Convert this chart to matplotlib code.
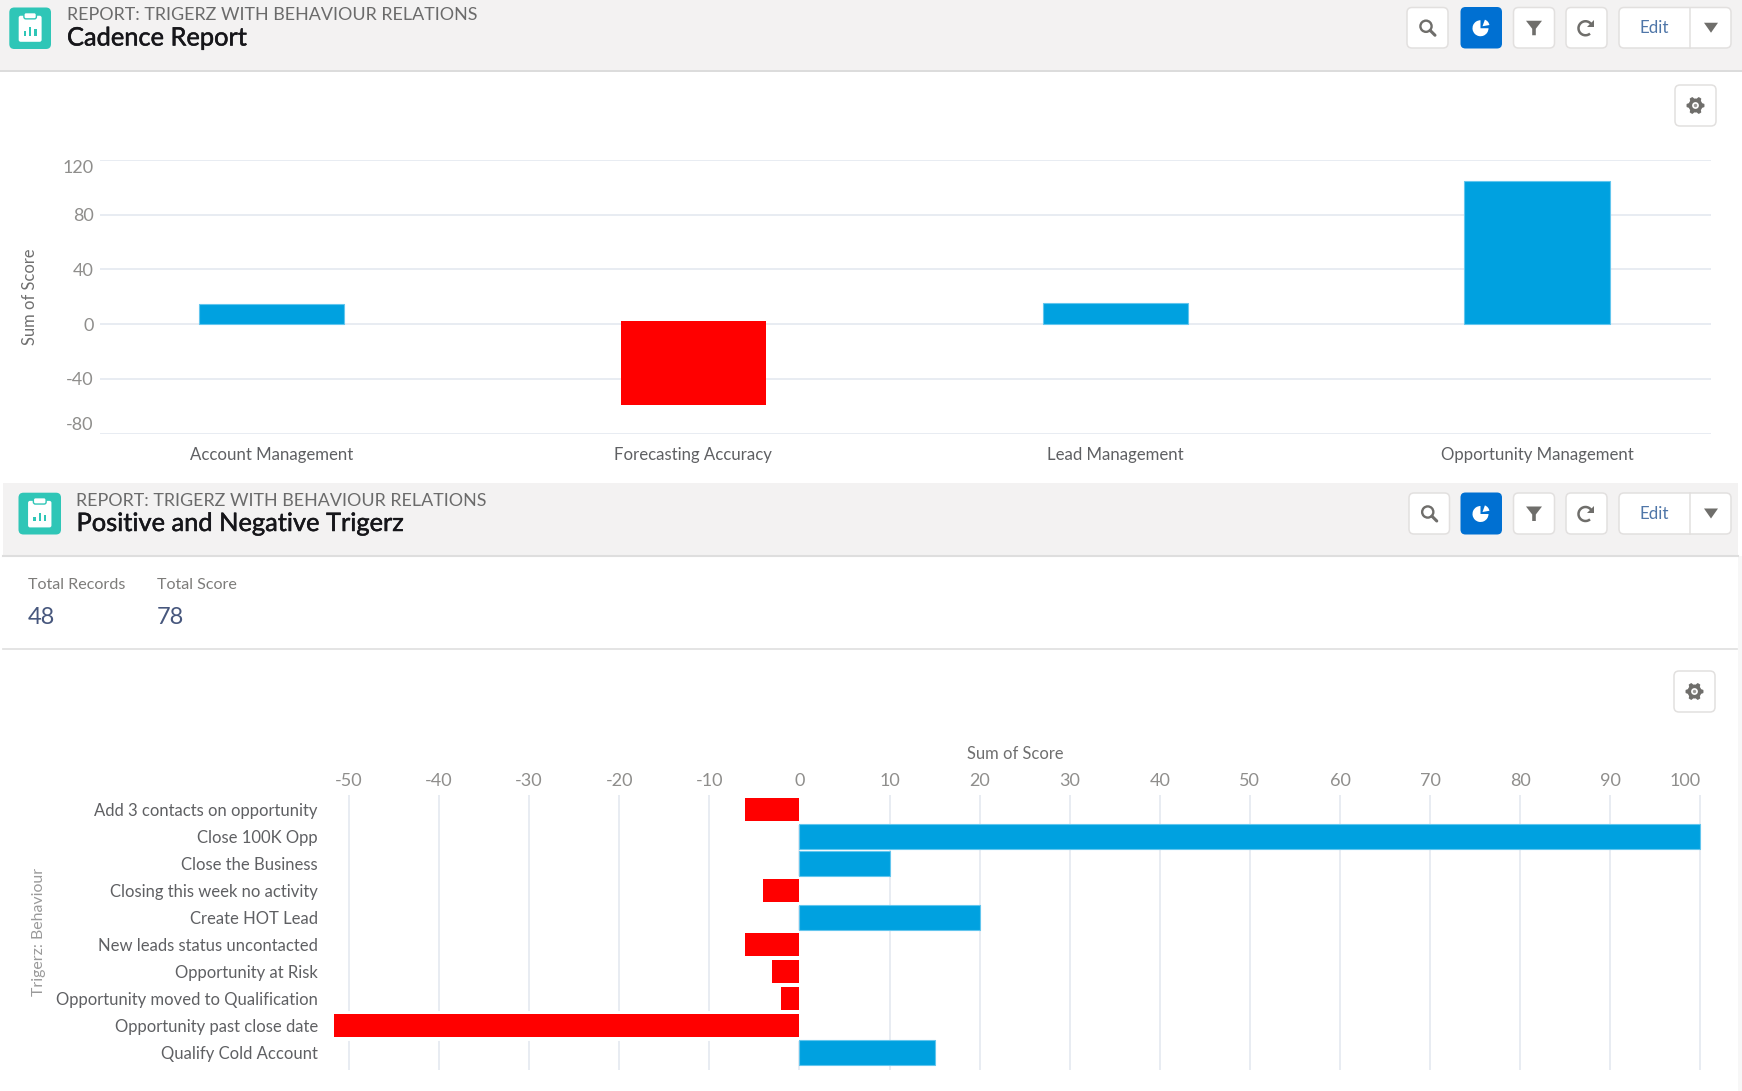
import numpy as np
import matplotlib
matplotlib.use("Agg")
import matplotlib.pyplot as plt
import matplotlib.patheffects as pe
from matplotlib.patches import FancyBboxPatch, Rectangle, Polygon, Wedge, Circle, Arc

plt.rcParams["font.family"] = ["Lato", "DejaVu Sans"]
plt.rcParams["axes.unicode_minus"] = False

# Cadence report values
cadence_categories = ["Account Management", "Forecasting Accuracy", "Lead Management", "Opportunity Management"]
cadence_scores = [14.5, -59, 15.5, 105]
cadence_ticks = [-80, -40, 0, 40, 80, 120]

# Positive and negative trigger values
trigger_categories = [
    "Add 3 contacts on opportunity", "Close 100K Opp", "Close the Business",
    "Closing this week no activity", "Create HOT Lead", "New leads status uncontacted",
    "Opportunity at Risk", "Opportunity moved to Qualification",
    "Opportunity past close date", "Qualify Cold Account",
]
trigger_scores = [-6, 100, 10, -4, 20, -6, -3, -2, -51.7, 15]
trigger_ticks = list(range(-50, 101, 10))

report_subtitle = "REPORT: TRIGERZ WITH BEHAVIOUR RELATIONS"
top_title = "Cadence Report"
bottom_title = "Positive and Negative Trigerz"
summary_names = ["Total Records", "Total Score"]
summary_values = ["48", "78"]

W, H = 1742, 1091
BLUE, BLUE_EDGE, RED = "#00a1e0", "#63c6ee", "#ff0000"
GRID = "#e6eaf1"
TICK_GREY = "#8f8e8c"
LABEL_GREY = "#5f6063"
ICON_GREY = "#6f6e6b"
BORDER = "#e2e0df"

fig = plt.figure(figsize=(W / 100, H / 100), dpi=100, facecolor="white")


def axes_from_px(x0, y0, x1, y1, **kw):
    return fig.add_axes([x0 / W, 1 - y1 / H, (x1 - x0) / W, (y1 - y0) / H], **kw)


# Page furniture is drawn on a full-size layer in pixel units
ui = axes_from_px(0, 0, W, H)
ui.set_xlim(0, W)
ui.set_ylim(H, 0)
ui.axis("off")


def rounded(x0, y0, x1, y1, face, edge="none", r=5, lw=1.1):
    ui.add_patch(FancyBboxPatch((x0 + r, y0 + r), x1 - x0 - 2 * r, y1 - y0 - 2 * r,
                                boxstyle=f"round,pad={r},rounding_size={r}",
                                fc=face, ec=edge, lw=lw))


def report_icon(x0, y0, x1, y1):
    rounded(x0, y0, x1, y1, "#2fc6b7", r=5)
    cx, s = (x0 + x1) / 2, (x1 - x0) / 40
    cy = (y0 + y1) / 2
    rounded(cx - 11 * s, cy - 12 * s, cx + 11 * s, cy + 13 * s, "white", r=2)
    rounded(cx - 6 * s, cy - 15 * s, cx + 6 * s, cy - 9 * s, "white", edge="#2fc6b7", r=2, lw=1)
    for dx, h in ((-5, 4), (0, 8), (5, 6)):
        ui.add_patch(Rectangle((cx + (dx - 1.1) * s, cy + 7 * s - h * s), 2.2 * s, h * s,
                               fc="#2fc6b7", ec="none"))


def search_icon(cx, cy):
    ui.add_patch(Circle((cx - 1.5, cy - 1.5), 5.6, fc="none", ec=ICON_GREY, lw=1.7))
    ui.plot([cx + 2.6, cx + 7.5], [cy + 2.6, cy + 7.5], color=ICON_GREY, lw=2.2,
            solid_capstyle="round")


def pie_icon(cx, cy):
    ui.add_patch(Wedge((cx - 0.5, cy + 0.5), 8, 0, 270, fc="white", ec="none"))
    ui.add_patch(Wedge((cx + 1.5, cy - 1.5), 7, 290, 350, fc="white", ec="none"))


def funnel_icon(cx, cy):
    ui.add_patch(Polygon([(cx - 8, cy - 7), (cx + 8, cy - 7), (cx + 1.8, cy + 1),
                          (cx + 1.8, cy + 7.5), (cx - 1.8, cy + 7.5), (cx - 1.8, cy + 1)],
                         closed=True, fc=ICON_GREY, ec="none"))


def refresh_icon(cx, cy):
    ui.add_patch(Arc((cx - 1, cy + 0.5), 14, 14, theta1=50, theta2=340, ec=ICON_GREY, lw=1.8))
    ui.add_patch(Polygon([(cx + 7.5, cy - 8), (cx + 7.5, cy - 0.5), (cx, cy - 0.5)],
                         closed=True, fc=ICON_GREY, ec="none"))


def gear_icon(cx, cy):
    angles = np.deg2rad(np.arange(0, 360, 10) + 30)
    radii = np.where((np.arange(36) % 6 == 0) | (np.arange(36) % 6 == 1) | (np.arange(36) % 6 == 5), 9.0, 7.0)
    pts = np.c_[cx + radii * np.sin(angles), cy + radii * np.cos(angles)]
    ui.add_patch(Polygon(pts, closed=True, fc=ICON_GREY, ec="none"))
    ui.add_patch(Circle((cx, cy), 3.4, fc="white", ec="none"))
    ui.add_patch(Circle((cx, cy), 1.7, fc="#9b9a98", ec="none"))


def toolbar(search_x, y0, y1):
    cy = (y0 + y1) / 2
    rounded(search_x[0], y0, search_x[1], y1, "white", BORDER)
    search_icon(sum(search_x) / 2, cy)
    rounded(1460.5, y0 - 0.5, 1502, y1 + 0.5, "#0070d2")
    pie_icon(1481, cy)
    rounded(1513.5, y0, 1554.5, y1, "white", BORDER)
    funnel_icon(1534, cy)
    rounded(1566, y0, 1607, y1, "white", BORDER)
    refresh_icon(1586.5, cy)
    rounded(1619, y0, 1731, y1, "white", BORDER)
    ui.plot([1690, 1690], [y0, y1], color=BORDER, lw=1.1)
    ui.text(1654.5, cy + 0.7, "Edit", ha="center", va="center", fontsize=12.2, color="#4f76a8")
    ui.add_patch(Polygon([(1704, cy - 5), (1718, cy - 5), (1711, cy + 5)], closed=True,
                         fc=ICON_GREY, ec="none"))


def settings_button(x0, y0):
    rounded(x0, y0, x0 + 41, y0 + 41, "white", BORDER)
    gear_icon(x0 + 20.5, y0 + 20.5)


# Header bands and separators
ui.add_patch(Rectangle((0, 0), W, 70, fc="#f3f2f2", ec="none"))
ui.plot([0, W], [70.5, 70.5], color="#d9d9d9", lw=1.3)
ui.add_patch(Rectangle((1738, 556), W - 1738, H - 556, fc="#f7f7f7", ec="none"))
ui.add_patch(Rectangle((3, 483), 1735, 72.5, fc="#f3f2f2", ec="none"))
ui.plot([3, 1738], [556, 556], color="#dedede", lw=1.5)
ui.plot([3, 1737], [649, 649], color="#e2e2e2", lw=1.3)

report_icon(9.3, 7.5, 51, 49)
report_icon(18.5, 492.7, 61, 534.5)
toolbar((1407, 1448), 7.5, 48)
toolbar((1409, 1449.5), 493, 534)
settings_button(1675, 85)
settings_button(1674, 671)

SUB_KW = dict(ha="left", va="center", fontsize=12.9, color="#6b6b6b")
TITLE_KW = dict(ha="left", va="center", fontsize=18.3, color="#16161a",
                path_effects=[pe.withStroke(linewidth=0.35, foreground="#16161a")])
ui.text(67, 15, report_subtitle, **SUB_KW)
ui.text(67, 38, top_title, **TITLE_KW)
ui.text(76, 501, report_subtitle, **SUB_KW)
ui.text(76.5, 523.5, bottom_title, **TITLE_KW)

for name, value, x in zip(summary_names, summary_values, (28, 157)):
    ui.text(x, 585, name, ha="left", va="center", fontsize=11.6, color="#7d7c7a")
    ui.text(x, 618, value, ha="left", va="center", fontsize=17, color="#47577d")

# Column chart
top_x0, top_x1, top_y0, top_y1 = 100, 1711, 160, 433.5
first_center, center_step = 271.5, 421.9
top = axes_from_px(top_x0, top_y0, top_x1, top_y1)
top.patch.set_visible(False)
top.set_xlim((top_x0 - first_center) / center_step, (top_x1 - first_center) / center_step)
top.set_ylim(min(cadence_ticks), max(cadence_ticks))
positions = np.arange(len(cadence_categories))
negative_start = 2.2  # the red column starts just above the zero line
for pos, score in zip(positions, cadence_scores):
    if score >= 0:
        top.bar(pos, score, width=0.345, color=BLUE, edgecolor=BLUE_EDGE, linewidth=0.8, zorder=3)
    else:
        top.bar(pos, score - negative_start, bottom=negative_start, width=0.345, color=RED,
                linewidth=0, zorder=3)
top.set_yticks(cadence_ticks)
top.set_xticks(positions, cadence_categories)
top.grid(axis="y", color=GRID, lw=1.3)
top.set_axisbelow(True)
top.tick_params(length=0)
top.tick_params(axis="y", pad=4.6, labelsize=13, labelcolor=TICK_GREY)
top.tick_params(axis="x", pad=9.5, labelsize=12.1, labelcolor=LABEL_GREY)
for spine in top.spines.values():
    spine.set_visible(False)
ylabels = top.get_yticklabels()
ylabels[0].set_verticalalignment("bottom")
ylabels[-1].set_verticalalignment("top")
ui.text(30, 297, "Sum of Score", rotation=90, ha="center", va="center", fontsize=11.9, color="#6f6f6f")

# Horizontal bar chart
bot_x0, bot_x1, bot_y0, bot_y1 = 320, 1710, 795, 1070
zero_px, px_per_unit = 799.4, 9.01
first_row, row_step = 809.5, 27.0
bottom = axes_from_px(bot_x0, bot_y0, bot_x1, bot_y1)
bottom.patch.set_visible(False)
bottom.set_xlim((bot_x0 - zero_px) / px_per_unit, (bot_x1 - zero_px) / px_per_unit)
bottom.set_ylim((bot_y1 - first_row) / row_step, (bot_y0 - first_row) / row_step)
rows = np.arange(len(trigger_categories))
for row, score in zip(rows, trigger_scores):
    if score >= 0:
        bottom.barh(row, score, height=0.93, color=BLUE, edgecolor=BLUE_EDGE, linewidth=0.8, zorder=4)
    else:
        # a white outline beneath the red bar interrupts the gridlines around it
        bottom.barh(row, score, height=0.815, color="white", edgecolor="white", linewidth=5, zorder=2.5)
        bottom.barh(row, score, height=0.815, color=RED, linewidth=0, zorder=3)
bottom.set_xticks(trigger_ticks)
bottom.xaxis.tick_top()
bottom.set_yticks(rows, trigger_categories)
bottom.grid(axis="x", color=GRID, lw=1.3)
bottom.set_axisbelow(True)
bottom.tick_params(length=0)
bottom.tick_params(axis="x", pad=4.5, labelsize=13, labelcolor=TICK_GREY)
bottom.tick_params(axis="y", pad=1.5, labelsize=12, labelcolor=LABEL_GREY)
for spine in bottom.spines.values():
    spine.set_visible(False)
bottom.set_xticklabels([str(t) for t in trigger_ticks])
bottom.get_xticklabels()[-1].set_horizontalalignment("right")
ui.text(1015, 754, "Sum of Score", ha="center", va="center", fontsize=11.9, color="#6f6f6f")
ui.text(39, 932, "Trigerz: Behaviour", rotation=90, ha="center", va="center", fontsize=11.4, color="#9a9a9a")

fig.savefig("out.png", dpi=100, facecolor="white")
